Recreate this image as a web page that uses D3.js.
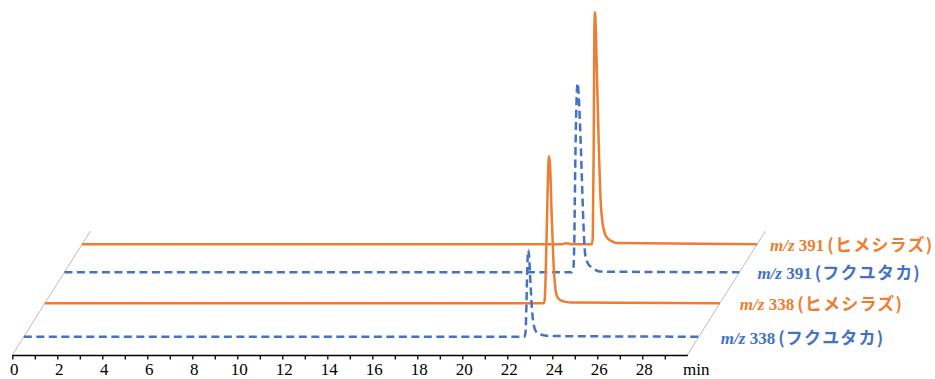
<!DOCTYPE html>
<html>
<head>
<meta charset="utf-8">
<script src="https://cdn.jsdelivr.net/npm/d3@7"></script>
<style>
  body { margin: 0; background: #fff; }
  svg { display: block; }
</style>
</head>
<body>
<svg id="chart" width="935" height="379"></svg>
<script>
// ---- data (time in min, relative intensity) ----
const mzValues = ["338", "338", "391", "391"];
const cultivars = ["フクユタカ", "ヒメシラズ", "フクユタカ", "ヒメシラズ"];

const fuku338 = [[0,0],[22.25,0],[22.3,2],[22.34,14],[22.38,30],[22.42,36.1],[22.46,33],[22.52,22],[22.58,12],[22.66,5],[22.76,2.2],[22.9,1.2],[23.1,0.6],[23.3,0.3],[30,0]];
const hime338 = [[0,0],[22.18,0],[22.22,2],[22.28,20],[22.34,45],[22.4,61.3],[22.45,58],[22.52,38],[22.6,18],[22.68,7],[22.76,3],[22.9,1.4],[23.1,0.7],[23.4,0.3],[30,0]];
const fuku391 = [[0,0],[22.55,0],[22.62,1],[22.66,12],[22.71,48],[22.77,74],[22.81,78.8],[22.85,75],[22.91,63],[22.99,42],[23.06,22],[23.14,8],[23.25,4],[23.44,2],[23.6,1],[23.8,0.3],[30,0]];
const hime391 = [[0,0],[21.3,0],[21.5,0.4],[21.8,0],[22.66,0],[22.7,3],[22.74,40],[22.77,88],[22.8,96.7],[22.84,88],[22.9,65],[22.97,40],[23.05,18],[23.13,9],[23.22,5],[23.36,2.5],[23.56,1.2],[23.76,0.5],[30,0]];

const seriesData = [fuku338, hime338, fuku391, hime391];
const timeTicks = d3.range(0, 30, 1);

// ---- layout ----
const axisY = 355;
const depthY = [18.3, 51.7, 82.7, 110.7];   // vertical shift of each trace
const slant = 0.63;                          // horizontal shift per px of depth
const labelGap = [22, 20, 18, 13];
const orange = "#ED7D31", blue = "#4472C4";
const colors = [blue, orange, blue, orange];
const serif = "Liberation Serif";
const jp = "Noto Sans CJK JP";

const svg = d3.select("#chart");

const x = d3.scaleLinear().domain([0, 30]).range([12.3, 687.3]);
const y = d3.scaleLinear().domain([0, 100]).range([0, -240]);

// slanted guide lines
const topDepth = 124;
[0, 30].forEach(t => {
  svg.append("line")
    .attr("x1", x(t)).attr("y1", axisY)
    .attr("x2", x(t) + topDepth * slant).attr("y2", axisY - topDepth)
    .attr("stroke", "#bdbdbd")
    .attr("stroke-width", 1);
});

// axis
const xAxis = d3.axisBottom(x)
  .tickValues(timeTicks)
  .tickSize(4.5)
  .tickSizeOuter(0)
  .tickPadding(3)
  .tickFormat(d => d % 2 === 0 ? d : "");

const gx = svg.append("g")
  .attr("transform", "translate(0," + axisY + ")")
  .call(xAxis)
  .attr("font-family", serif)
  .attr("font-size", 17);
gx.select(".domain").attr("stroke", "#000").attr("stroke-width", 1.3);
gx.selectAll(".tick line").attr("stroke", "#000").attr("stroke-width", 1.3);
gx.selectAll(".tick text").attr("fill", "#000").attr("dx", 1.5);

svg.append("text")
  .attr("x", 683).attr("y", 375)
  .attr("font-family", serif)
  .attr("font-size", 17)
  .text("min");

// traces, back to front
const line = d3.line()
  .x(d => x(d[0]))
  .y(d => y(d[1]))
  .curve(d3.curveMonotoneX);

for (let i = seriesData.length - 1; i >= 0; i--) {
  const dx = depthY[i] * slant;
  const g = svg.append("g")
    .attr("transform", "translate(" + dx + "," + (axisY - depthY[i]) + ")");

  g.append("path")
    .datum(seriesData[i])
    .attr("fill", "none")
    .attr("stroke", colors[i])
    .attr("stroke-width", 2.5)
    .attr("stroke-dasharray", i % 2 === 0 ? "8,4.5" : null)
    .attr("d", line);

  const label = g.append("text")
    .attr("x", x(30) + labelGap[i])
    .attr("y", 7)
    .attr("fill", colors[i])
    .attr("font-weight", "bold");
  label.append("tspan")
    .attr("font-family", serif)
    .attr("font-style", "italic")
    .attr("font-size", 17)
    .text("m/z");
  label.append("tspan")
    .attr("font-family", serif)
    .attr("font-size", 17)
    .text(" " + mzValues[i]);
  label.append("tspan")
    .attr("dx", 3)
    .attr("font-family", jp)
    .attr("font-size", 17)
    .attr("letter-spacing", 1.2)
    .text("(" + cultivars[i] + ")");
}
</script>
</body>
</html>
